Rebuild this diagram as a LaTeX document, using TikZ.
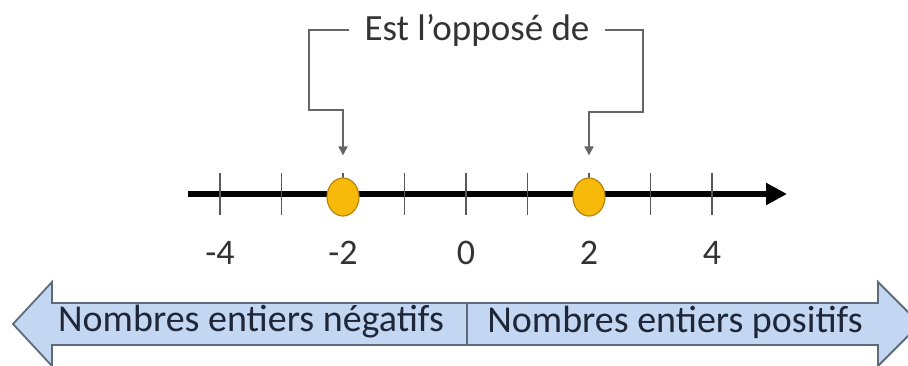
\documentclass[tikz,border=0pt]{standalone}
\usepackage{fontspec}
\setmainfont{Carlito}
\usetikzlibrary{arrows.meta,shapes.geometric}

\definecolor{dotfill}{HTML}{F7BA0A}
\definecolor{dotline}{HTML}{B8860B}
\definecolor{bandfill}{HTML}{C3D7F2}
\definecolor{bandline}{HTML}{5E6A7A}
\definecolor{bandtext}{HTML}{1E2638}

\newcommand*{\unitx}{61.5}
\newcommand*{\zerox}{466}
\newcommand*{\liney}{194}

\begin{document}
\begin{tikzpicture}
[
	x=1pt,
	y=-1pt,
	tickmark/.style={line width=1.6pt,black!65},
	dotpt/.style={ellipse,draw=dotline,fill=dotfill,line width=1.2pt,inner sep=0pt,minimum width=32pt,minimum height=38pt},
	link/.style={line width=1.8pt,black!60,-{Triangle[width=9pt,length=9pt]},shorten >=22pt},
	numlabel/.style={font=\fontsize{36}{42}\selectfont,text=black!80},
	band/.style={draw=bandline,fill=bandfill,line width=1.8pt,line join=miter},
	bandlabel/.style={font=\fontsize{38}{44}\selectfont,text=bandtext}
]

	\useasboundingbox (0,0) rectangle (908,365);
	\clip (0,0) rectangle (908,365);

	% number line
	\coordinate (start) at (188,\liney);
	\coordinate (stop) at (787,\liney);
	\draw[line width=6.5pt,-{Triangle[width=21pt,length=21pt]}] (start) -- (stop);

	% ticks
	\foreach \k in {-4,...,4} {
		\draw[tickmark] ({\zerox+\k*\unitx},173) -- ({\zerox+\k*\unitx},215);
	}

	% labels
	\foreach \k in {-4,-2,0,2,4} {
		\node[numlabel] (lab\k) at ({\zerox+\k*\unitx},253) {\k};
	}

	% opposite points
	\node[dotpt] (m2) at ({\zerox-2*\unitx},197) {};
	\node[dotpt] (p2) at ({\zerox+2*\unitx},197) {};

	% callout
	\node[font=\fontsize{37}{44}\selectfont,text=black!80,inner xsep=15pt] (opp) at (477,30) {Est l’opposé de\hspace{9pt}};
	\draw[link] (opp.west) -| ++(-40,80) -| (m2.north);
	\draw[link] (opp.east) -| ++(38,82) -| (p2.north);

	% bands
	\draw[band] (467,303) -- (52,303) -- (52,282) -- (13,324) -- (52,366) -- (52,345) -- (467,345) -- cycle;
	\draw[band] (467,303) -- (878,303) -- (878,282) -- (920,324) -- (878,366) -- (878,345) -- (467,345) -- cycle;
	\node[bandlabel] (neg) at (251,322) {Nombres entiers négatifs};
	\node[bandlabel] (pos) at (675,322) {Nombres entiers positifs};

\end{tikzpicture}
\end{document}
